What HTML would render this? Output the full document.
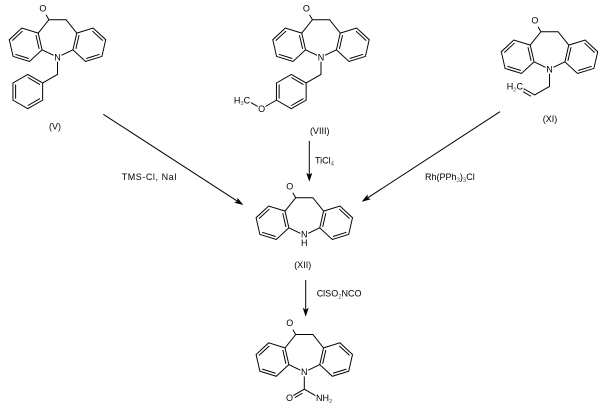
<!DOCTYPE html>
<html>
<head>
<meta charset="utf-8">
<style>
  html,body{margin:0;padding:0;background:#fff;}
  svg{display:block;}
  text{font-family:"Liberation Sans", Arial, sans-serif;fill:#000;}
</style>
</head>
<body>
<svg width="609" height="412" viewBox="0 0 609 412" xmlns="http://www.w3.org/2000/svg">
  <rect x="0" y="0" width="609" height="412" fill="#fff"/>

  <!-- ===== (V) ===== -->
  <g transform="translate(57.5,37.5) scale(0.98)" fill="none" stroke="#000" stroke-width="1">
    <path d="M-15.76,12.57 L-4.05,18.21 M15.76,12.57 L4.05,18.21
             M-19.65,-4.49 L-8.75,-18.16 L8.75,-18.16 L19.65,-4.49
             M-19.65,-4.49 L-36.37,-9.65 L-49.2,2.25 L-45.31,19.31 L-28.59,24.47 L-15.76,12.57 Z
             M19.65,-4.49 L36.37,-9.65 L49.2,2.25 L45.31,19.31 L28.59,24.47 L15.76,12.57 Z
             M-35.67,-6.58 L-46.19,3.18 M-43,17.17 L-29.29,21.4 M-21.96,-2.35 L-18.77,11.64
             M35.67,-6.58 L46.19,3.18 M43,17.17 L29.29,21.4 M21.96,-2.35 L18.77,11.64
             M-8.75,-18.16 L-11.7,-23.2"/>
    <path d="M0,24.7 L0,37.66 L-15.16,46.41
             M-15.16,46.41 L-30.31,37.66 L-45.47,46.41 L-45.47,63.91 L-30.31,72.66 L-15.16,63.91 Z
             M-42.74,47.99 L-42.74,62.34 M-30.31,40.81 L-17.89,47.99 M-30.31,69.51 L-17.89,62.34"/>
    <g stroke="none" font-size="9.2">
      <text x="-14.9" y="-26.7" text-anchor="middle">O</text>
      <text x="0" y="23.4" text-anchor="middle">N</text>
    </g>
  </g>
  <text x="55" y="129.5" font-size="9" text-anchor="middle">(V)</text>

  <!-- ===== (VIII) ===== -->
  <g transform="translate(321,37.5) scale(0.98)" fill="none" stroke="#000" stroke-width="1">
    <path d="M-15.76,12.57 L-4.05,18.21 M15.76,12.57 L4.05,18.21
             M-19.65,-4.49 L-8.75,-18.16 L8.75,-18.16 L19.65,-4.49
             M-19.65,-4.49 L-36.37,-9.65 L-49.2,2.25 L-45.31,19.31 L-28.59,24.47 L-15.76,12.57 Z
             M19.65,-4.49 L36.37,-9.65 L49.2,2.25 L45.31,19.31 L28.59,24.47 L15.76,12.57 Z
             M-35.67,-6.58 L-46.19,3.18 M-43,17.17 L-29.29,21.4 M-21.96,-2.35 L-18.77,11.64
             M35.67,-6.58 L46.19,3.18 M43,17.17 L29.29,21.4 M21.96,-2.35 L18.77,11.64
             M-8.75,-18.16 L-11.7,-23.2"/>
    <path d="M0,24.7 L0,37.66 L-15.16,46.41
             M-15.16,46.41 L-30.31,37.66 L-45.47,46.41 L-45.47,63.91 L-30.31,72.66 L-15.16,63.91 Z
             M-42.74,47.99 L-42.74,62.34 M-30.31,40.81 L-17.89,47.99 M-30.31,69.51 L-17.89,62.34
             M-45.47,63.91 L-56.7,70.4 M-64.5,70.4 L-71.3,66.5"/>
    <g stroke="none" font-size="9.2">
      <text x="-14.9" y="-26.7" text-anchor="middle">O</text>
      <text x="0" y="23.4" text-anchor="middle">N</text>
      <text x="-60.63" y="75.9" text-anchor="middle">O</text>
      <text x="-72.3" y="67.1" text-anchor="end">H<tspan font-size="6" dy="2" fill="#555">3</tspan><tspan dy="-2">C</tspan></text>
    </g>
  </g>
  <text x="319.7" y="134" font-size="9" text-anchor="middle">(VIII)</text>

  <!-- ===== (XI) ===== -->
  <g transform="translate(549.5,49.5) scale(0.98)" fill="none" stroke="#000" stroke-width="1">
    <path d="M-15.76,12.57 L-4.05,18.21 M15.76,12.57 L4.05,18.21
             M-19.65,-4.49 L-8.75,-18.16 L8.75,-18.16 L19.65,-4.49
             M-19.65,-4.49 L-36.37,-9.65 L-49.2,2.25 L-45.31,19.31 L-28.59,24.47 L-15.76,12.57 Z
             M19.65,-4.49 L36.37,-9.65 L49.2,2.25 L45.31,19.31 L28.59,24.47 L15.76,12.57 Z
             M-35.67,-6.58 L-46.19,3.18 M-43,17.17 L-29.29,21.4 M-21.96,-2.35 L-18.77,11.64
             M35.67,-6.58 L46.19,3.18 M43,17.17 L29.29,21.4 M21.96,-2.35 L18.77,11.64
             M-8.75,-18.16 L-11.7,-23.2"/>
    <path d="M0,24.7 L0,37.66 L-15.16,46.41 L-26.41,39.91
             M-18.93,47.7 L-27,43.0"/>
    <g stroke="none" font-size="9.2">
      <text x="-14.9" y="-26.7" text-anchor="middle">O</text>
      <text x="0" y="23.4" text-anchor="middle">N</text>
      <text x="-27" y="40.9" text-anchor="end">H<tspan font-size="6" dy="2" fill="#555">2</tspan><tspan dy="-2">C</tspan></text>
    </g>
  </g>
  <text x="550" y="122" font-size="9" text-anchor="middle">(XI)</text>

  <!-- ===== (XII) ===== -->
  <g transform="translate(304.3,215.5) scale(0.98)" fill="none" stroke="#000" stroke-width="1">
    <path d="M-15.76,12.57 L-4.05,18.21 M15.76,12.57 L4.05,18.21
             M-19.65,-4.49 L-8.75,-18.16 L8.75,-18.16 L19.65,-4.49
             M-19.65,-4.49 L-36.37,-9.65 L-49.2,2.25 L-45.31,19.31 L-28.59,24.47 L-15.76,12.57 Z
             M19.65,-4.49 L36.37,-9.65 L49.2,2.25 L45.31,19.31 L28.59,24.47 L15.76,12.57 Z
             M-35.67,-6.58 L-46.19,3.18 M-43,17.17 L-29.29,21.4 M-21.96,-2.35 L-18.77,11.64
             M35.67,-6.58 L46.19,3.18 M43,17.17 L29.29,21.4 M21.96,-2.35 L18.77,11.64
             M-8.75,-18.16 L-11.7,-23.2"/>
    <g stroke="none" font-size="9.2">
      <text x="-14.9" y="-26.7" text-anchor="middle">O</text>
      <text x="0" y="22.6" text-anchor="middle">N</text>
      <text x="0" y="31.2" text-anchor="middle">H</text>
    </g>
  </g>
  <text x="302.7" y="268" font-size="9" text-anchor="middle">(XII)</text>

  <!-- ===== Product ===== -->
  <g transform="translate(304.3,352.3) scale(0.98)" fill="none" stroke="#000" stroke-width="1">
    <path d="M-15.76,12.57 L-4.05,18.21 M15.76,12.57 L4.05,18.21
             M-19.65,-4.49 L-8.75,-18.16 L8.75,-18.16 L19.65,-4.49
             M-19.65,-4.49 L-36.37,-9.65 L-49.2,2.25 L-45.31,19.31 L-28.59,24.47 L-15.76,12.57 Z
             M19.65,-4.49 L36.37,-9.65 L49.2,2.25 L45.31,19.31 L28.59,24.47 L15.76,12.57 Z
             M-35.67,-6.58 L-46.19,3.18 M-43,17.17 L-29.29,21.4 M-21.96,-2.35 L-18.77,11.64
             M35.67,-6.58 L46.19,3.18 M43,17.17 L29.29,21.4 M21.96,-2.35 L18.77,11.64
             M-8.75,-18.16 L-11.7,-23.2"/>
    <path d="M0,24.7 L0,37.66 L-11.26,44.16 M0,37.66 L11.26,44.16
             M-1.73,41.66 L-9.62,46.21"/>
    <g stroke="none" font-size="9.2">
      <text x="-14.9" y="-26.7" text-anchor="middle">O</text>
      <text x="0" y="23.4" text-anchor="middle">N</text>
      <text x="-15.16" y="49.6" text-anchor="middle">O</text>
      <text x="12" y="49.6" text-anchor="start">NH<tspan font-size="6" dy="2" fill="#555">2</tspan></text>
    </g>
  </g>

  <!-- ===== Arrows ===== -->
  <g stroke="#000" stroke-width="1" fill="none">
    <line x1="103.3" y1="114.3" x2="237.4" y2="201.2"/>
    <line x1="309.3" y1="141" x2="309.3" y2="175"/>
    <line x1="500" y1="111.7" x2="367.6" y2="197.9"/>
    <line x1="305.7" y1="280" x2="305.7" y2="310"/>
  </g>
  <g fill="#000" stroke="none">
    <path d="M243.3,205 L234.12,202.62 L237.43,201.19 L237.38,197.58 Z"/>
    <path d="M309.3,181.7 L306.3,172.7 L309.3,174.7 L312.3,172.7 Z"/>
    <path d="M361.7,201.7 L367.6,194.29 L367.57,197.89 L370.88,199.31 Z"/>
    <path d="M305.7,316.7 L302.7,307.7 L305.7,309.7 L308.7,307.7 Z"/>
  </g>

  <!-- ===== Reagent labels ===== -->
  <text x="121.7" y="180" font-size="9" textLength="55" lengthAdjust="spacing">TMS-Cl, NaI</text>
  <text x="315" y="163.5" font-size="9">TiCl<tspan font-size="6" dy="2" fill="#555">4</tspan></text>
  <text x="425" y="180" font-size="9">Rh(PPh<tspan font-size="6" dy="2" fill="#555">3</tspan><tspan dy="-2">)</tspan><tspan font-size="6" dy="2" fill="#555">3</tspan><tspan dy="-2">Cl</tspan></text>
  <text x="316.7" y="296.5" font-size="9">ClSO<tspan font-size="6" dy="2" fill="#555">2</tspan><tspan dy="-2">NCO</tspan></text>
</svg>
</body>
</html>
